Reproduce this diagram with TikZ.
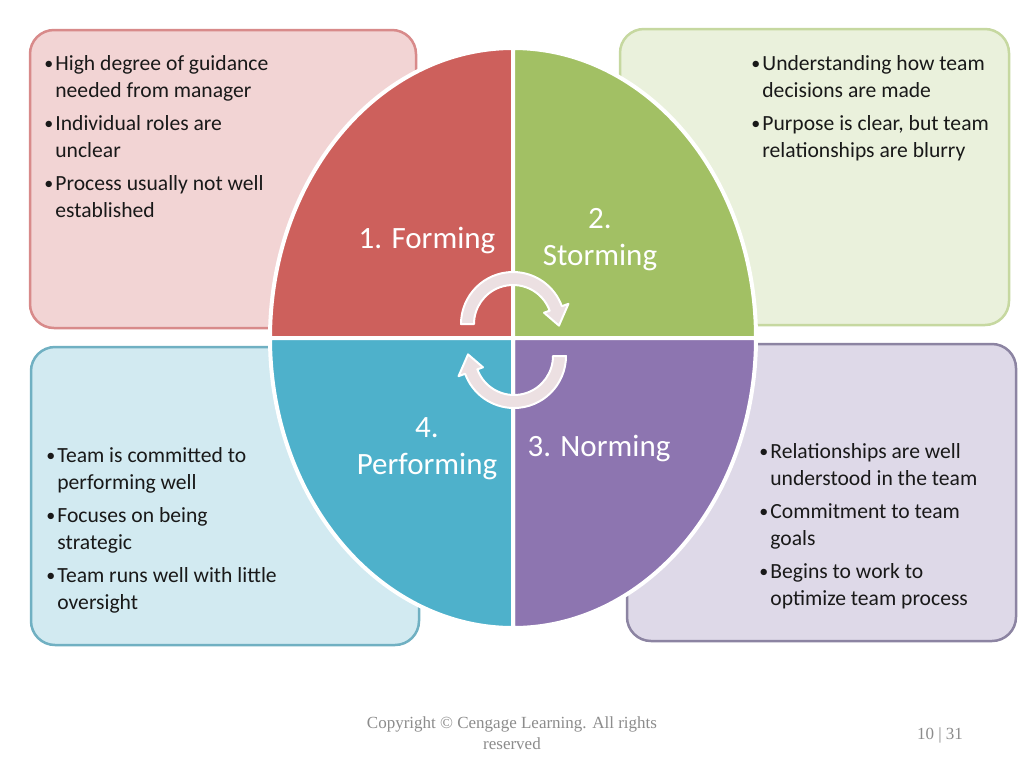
\documentclass[tikz,border=0pt]{standalone}
\usepackage{fontspec}
\setmainfont{Carlito}
\newfontfamily\footfont{Liberation Serif}
\usepackage{xcolor}
\usepackage{tikz}
\definecolor{form-red}{RGB}{205,96,92}
\definecolor{storm-green}{RGB}{162,192,100}
\definecolor{norm-purple}{RGB}{141,117,176}
\definecolor{perf-blue}{RGB}{78,177,203}
\definecolor{form-fill}{RGB}{242,212,212}
\definecolor{form-line}{RGB}{216,138,138}
\definecolor{storm-fill}{RGB}{234,241,220}
\definecolor{storm-line}{RGB}{198,216,160}
\definecolor{perf-fill}{RGB}{210,234,241}
\definecolor{perf-line}{RGB}{112,176,194}
\definecolor{norm-fill}{RGB}{222,217,232}
\definecolor{norm-line}{RGB}{140,132,162}
\definecolor{turn-fill}{RGB}{236,224,226}
\definecolor{text-dark}{RGB}{25,25,25}
\definecolor{foot-gray}{RGB}{140,140,140}
\newcommand{\bul}{\makebox[5.5pt][l]{\raisebox{0.4pt}{\fontsize{9}{9}\selectfont\textbullet}}}
\newcommand{\ind}{\hspace*{5.5pt}}

\begin{document}
\begin{tikzpicture}[x=0.5pt, y=-0.5pt,
  infobox/.style={line width=1.25pt, rounded corners=12pt},
  quadrant/.style={draw=white, line width=2pt},
  turn/.style={fill=turn-fill, draw=white, line width=1pt, line join=round},
  boxtext/.style={anchor=base west, inner sep=0pt, text=text-dark, font=\fontsize{10.8}{13.5}\selectfont},
  stagelabel/.style={anchor=base, inner sep=0pt, text=white, font=\fontsize{15.5}{18.5}\selectfont}]
  \useasboundingbox[fill=white] (0,0) rectangle (1024,768);

  % Boxes
  \draw[infobox, fill=form-fill, draw=form-line] (30,30) rectangle (416,328);
  \draw[infobox, fill=storm-fill, draw=storm-line] (620,29) rectangle (1009,325);
  \draw[infobox, fill=perf-fill, draw=perf-line] (31,347) rectangle (419,645);
  \draw[infobox, fill=norm-fill, draw=norm-line] (627,344) rectangle (1016,641);

  % Ellipse quadrants
  \draw[quadrant, fill=form-red] (513,338) -- (270,338) arc[start angle=180, end angle=270, x radius=243, y radius=290] -- cycle;
  \draw[quadrant, fill=storm-green] (513,338) -- (513,48) arc[start angle=270, end angle=360, x radius=243, y radius=290] -- cycle;
  \draw[quadrant, fill=norm-purple] (513,338) -- (756,338) arc[start angle=0, end angle=90, x radius=243, y radius=290] -- cycle;
  \draw[quadrant, fill=perf-blue] (513,338) -- (513,628) arc[start angle=90, end angle=180, x radius=243, y radius=290] -- cycle;

  % Cycle arrows
  \begin{scope}[shift={(513,324)}]
    \draw[turn] (180:52) arc[start angle=180, end angle=340, radius=52] -- (340:59) -- (2:46) -- (340:33) -- (340:39) arc[start angle=340, end angle=180, radius=39] -- cycle;
  \end{scope}
  \begin{scope}[shift={(514,356)}]
    \draw[turn] (0:52) arc[start angle=0, end angle=160, radius=52] -- (160:59) -- (182:46) -- (160:33) -- (160:39) arc[start angle=160, end angle=0, radius=39] -- cycle;
  \end{scope}

  % Stage labels
  \node[stagelabel] (forming) at (427,248) {1. Forming};
  \node[stagelabel] (storming) at (600,228) {\begin{tabular}[t]{@{}c@{}}2.\\Storming\end{tabular}};
  \node[stagelabel] (norming) at (599,456) {3. Norming};
  \node[stagelabel] (performing) at (427,437) {\begin{tabular}[t]{@{}c@{}}4.\\Performing\end{tabular}};

  % Notes
  \node[boxtext] (forming-notes) at (44,70) {\begin{tabular}[t]{@{}l@{}}
    \bul High degree of guidance\\
    \ind needed from manager\\[3pt]
    \bul Individual roles are\\
    \ind unclear\\[3pt]
    \bul Process usually not well\\
    \ind established
  \end{tabular}};
  \node[boxtext] (storming-notes) at (751,70) {\begin{tabular}[t]{@{}l@{}}
    \bul Understanding how team\\
    \ind decisions are made\\[3pt]
    \bul Purpose is clear, but team\\
    \ind relationships are blurry
  \end{tabular}};
  \node[boxtext] (performing-notes) at (46,462) {\begin{tabular}[t]{@{}l@{}}
    \bul Team is committed to\\
    \ind performing well\\[3pt]
    \bul Focuses on being\\
    \ind strategic\\[3pt]
    \bul Team runs well with little\\
    \ind oversight
  \end{tabular}};
  \node[boxtext] (norming-notes) at (759,458) {\begin{tabular}[t]{@{}l@{}}
    \bul Relationships are well\\
    \ind understood in the team\\[3pt]
    \bul Commitment to team\\
    \ind goals\\[3pt]
    \bul Begins to work to\\
    \ind optimize team process
  \end{tabular}};

  % Footer
  \node[anchor=base, inner sep=0pt, text=foot-gray, font=\footfont\fontsize{8.5}{10.5}\selectfont] (copyright) at (512,728) {\begin{tabular}[t]{@{}c@{}}Copyright © Cengage Learning. All rights\\reserved\end{tabular}};
  \node[anchor=base, inner sep=0pt, text=foot-gray, font=\footfont\fontsize{8.5}{10.5}\selectfont] (pagenum) at (940,739) {10 | 31};
\end{tikzpicture}
\end{document}
